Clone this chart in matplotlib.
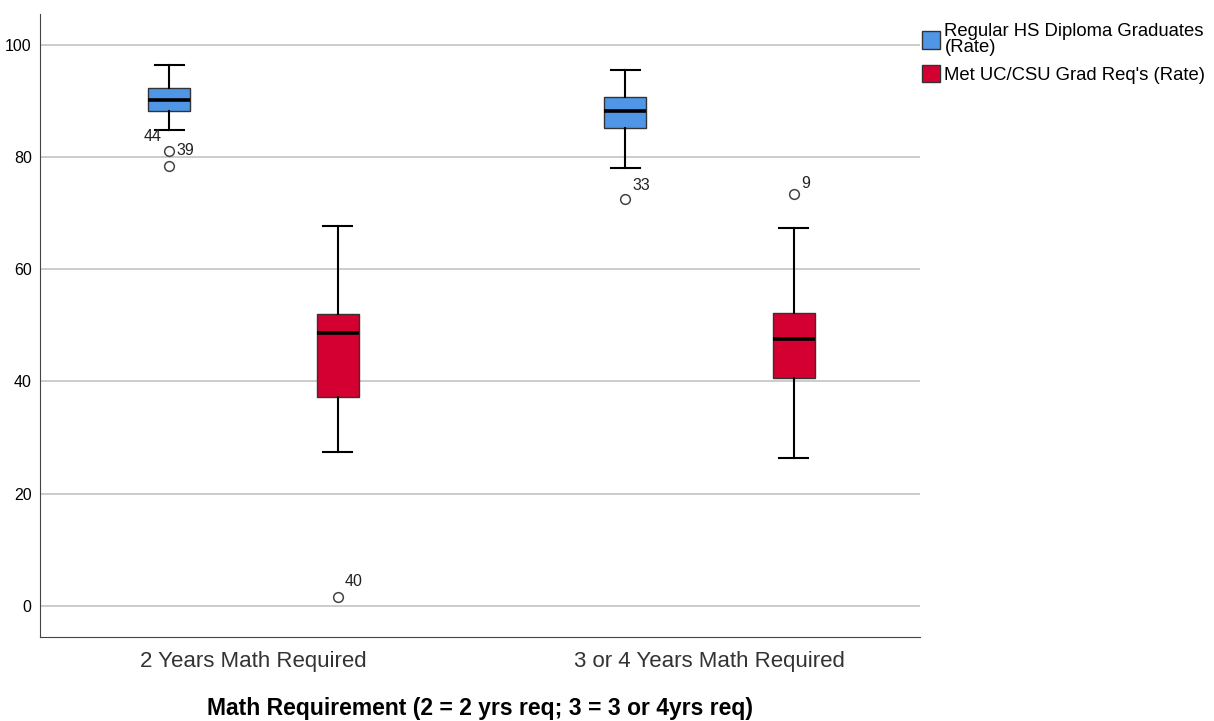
import matplotlib.pyplot as plt
from matplotlib.patches import Patch

plt.rcParams["font.family"] = ["Liberation Sans", "DejaVu Sans"]

GROUPS = ["2 Years Math Required", "3 or 4 Years Math Required"]
SERIES = ["Regular HS Diploma Graduates\n(Rate)", "Met UC/CSU Grad Req's (Rate)"]
COLORS = ["#5096e6", "#d50032"]

# five-number summaries, [group][series]
WHISK_LO = [[84.8, 27.5], [78.1, 26.4]]
Q1 = [[88.2, 37.3], [85.2, 40.6]]
MED = [[90.2, 48.7], [88.2, 47.6]]
Q3 = [[92.2, 52.0], [90.7, 52.2]]
WHISK_HI = [[96.3, 67.6], [95.4, 67.4]]
OUTLIERS = [[[81.1, 78.4], [1.6]], [[72.5], [73.3]]]
OUTLIER_IDS = [[["39", "44"], ["40"]], [["33"], ["9"]]]
# label offsets in points (SPSS nudges colliding labels)
LABEL_OFFSETS = {"39": (5, 0), "44": (-18, 21), "40": (5, 11), "33": (5, 10), "9": (5, 8)}

fig = plt.figure(figsize=(12.14, 7.21), dpi=100)
ax = fig.add_axes([0.033, 0.1165, 0.725, 0.8645])

offset = 0.185
for s in range(2):
    stats = []
    positions = []
    for g in range(2):
        stats.append(dict(med=MED[g][s], q1=Q1[g][s], q3=Q3[g][s],
                          whislo=WHISK_LO[g][s], whishi=WHISK_HI[g][s],
                          fliers=OUTLIERS[g][s]))
        positions.append(g + (2 * s - 1) * offset)
    ax.bxp(stats, positions=positions, widths=0.092, capwidths=0.064,
           patch_artist=True, manage_ticks=False,
           boxprops=dict(facecolor=COLORS[s], edgecolor="#333333", linewidth=1),
           medianprops=dict(color="black", linewidth=2.6),
           whiskerprops=dict(color="black", linewidth=1.5),
           capprops=dict(color="black", linewidth=1.5),
           flierprops=dict(marker="o", markersize=7, markerfacecolor="white",
                           markeredgecolor="#444444", markeredgewidth=1.1))
    for g in range(2):
        for val, lab in zip(OUTLIERS[g][s], OUTLIER_IDS[g][s]):
            ax.annotate(lab, (positions[g], val), xytext=LABEL_OFFSETS[lab],
                        textcoords="offset points", fontsize=11.5,
                        ha="left", va="center", color="#222222")

ax.set_xlim(-0.468, 1.462)
ax.set_ylim(-5.53, 105.5)
ax.set_yticks([0, 20, 40, 60, 80, 100])
ax.set_xticks([0, 1])
ax.set_xticklabels(GROUPS, fontsize=16, color="#333333")
ax.tick_params(axis="y", labelsize=11.5, length=0, pad=6)
ax.tick_params(axis="x", length=0, pad=10)
ax.yaxis.grid(True, color="#c8c8c8", linewidth=1.3)
ax.set_axisbelow(True)
for side in ["top", "right"]:
    ax.spines[side].set_visible(False)
for side in ["left", "bottom"]:
    ax.spines[side].set_color("#444444")
ax.set_xlabel("Math Requirement (2 = 2 yrs req; 3 = 3 or 4yrs req)",
              fontsize=16.5, fontweight="bold", labelpad=18)

handles = [Patch(facecolor=c, edgecolor="#333333") for c in COLORS]
leg = ax.legend(handles, SERIES, loc="upper left", bbox_to_anchor=(0.994, 0.997),
                frameon=False, fontsize=13.3, handlelength=0.95, handleheight=1.1,
                handletextpad=0.25, borderaxespad=0.0, labelspacing=0.45)
for t in leg.get_texts():
    t.set_linespacing(0.95)

fig.savefig("out.png", dpi=100)
